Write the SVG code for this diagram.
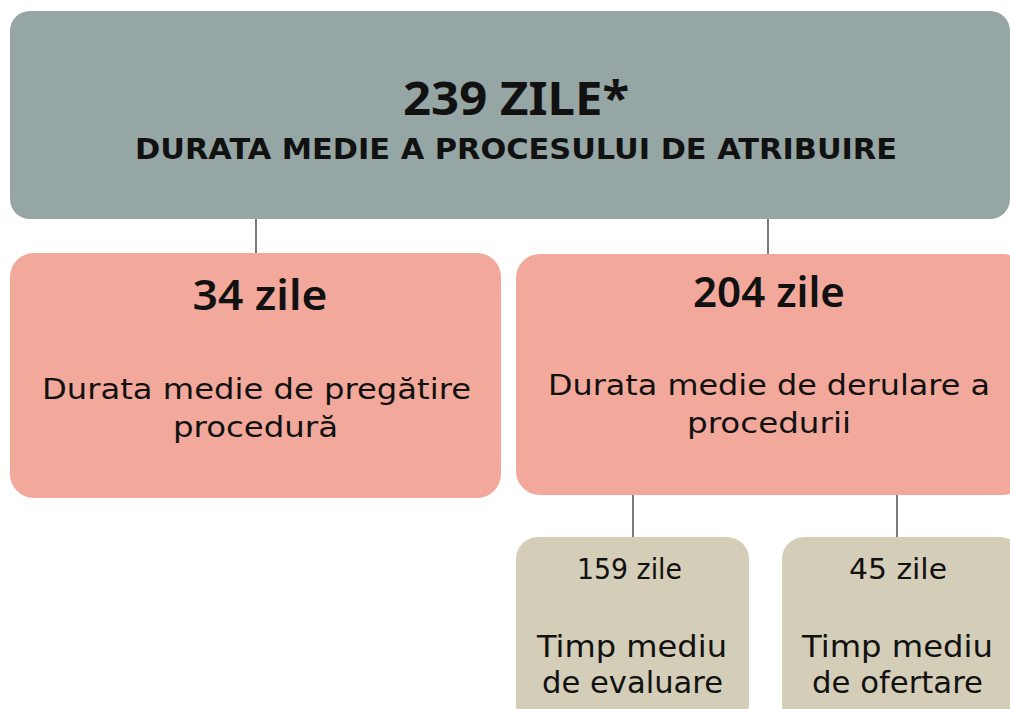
<svg xmlns="http://www.w3.org/2000/svg" width="1010" height="709" viewBox="0 0 1010 709">
<style>
.t{font-family:"DejaVu Sans","Noto Sans",sans-serif;fill:#111;text-anchor:middle}
.h{font-family:"Noto Sans","DejaVu Sans",sans-serif;fill:#111;text-anchor:middle;font-weight:600}
.b{font-weight:700}
.top{fill:#95a6a4}
.pink{fill:#f2a99b}
.beige{fill:#d4cdb8}
.conn line{stroke:#333;stroke-width:1.3}
</style>
<rect width="1010" height="709" fill="#ffffff"/>
<g class="conn">
<line x1="256" y1="219" x2="256" y2="253"/>
<line x1="768" y1="219" x2="768" y2="254"/>
<line x1="633" y1="495" x2="633" y2="537"/>
<line x1="897" y1="495" x2="897" y2="537"/>
</g>
<g id="n-total">
<rect class="top" x="10" y="11" width="1000" height="208" rx="20"/>
<text class="h b" x="516" y="115" font-size="46" textLength="226" lengthAdjust="spacingAndGlyphs">239 ZILE*</text>
<text class="t b" x="516" y="159" font-size="29" textLength="762" lengthAdjust="spacingAndGlyphs">DURATA MEDIE A PROCESULUI DE ATRIBUIRE</text>
</g>
<g id="n-pregatire">
<rect class="pink" x="10" y="253" width="491" height="245" rx="24"/>
<text class="h" x="260" y="310" font-size="42" textLength="135" lengthAdjust="spacingAndGlyphs">34 zile</text>
<text class="t" x="256.5" y="399" font-size="28" font-weight="500" textLength="429" lengthAdjust="spacingAndGlyphs">Durata medie de pregătire</text>
<text class="t" x="255.5" y="437" font-size="28" font-weight="500" textLength="165" lengthAdjust="spacingAndGlyphs">procedură</text>
</g>
<g id="n-derulare">
<rect class="pink" x="516" y="254" width="510" height="241" rx="24"/>
<text class="h" x="769" y="307" font-size="42" textLength="152" lengthAdjust="spacingAndGlyphs">204 zile</text>
<text class="t" x="769" y="395" font-size="28" font-weight="500" textLength="442" lengthAdjust="spacingAndGlyphs">Durata medie de derulare a</text>
<text class="t" x="769" y="433" font-size="28" font-weight="500" textLength="164" lengthAdjust="spacingAndGlyphs">procedurii</text>
</g>
<g id="n-evaluare">
<rect class="beige" x="516" y="537" width="233" height="190" rx="22"/>
<text class="t" x="629.5" y="579" font-size="29" textLength="105" lengthAdjust="spacingAndGlyphs">159 zile</text>
<text class="t" x="632" y="657" font-size="31" textLength="190" lengthAdjust="spacingAndGlyphs">Timp mediu</text>
<text class="t" x="632.5" y="693" font-size="31" textLength="181" lengthAdjust="spacingAndGlyphs">de evaluare</text>
</g>
<g id="n-ofertare">
<rect class="beige" x="782" y="537" width="240" height="190" rx="22"/>
<text class="t" x="898" y="579" font-size="29" textLength="98" lengthAdjust="spacingAndGlyphs">45 zile</text>
<text class="t" x="897.5" y="657" font-size="31" textLength="191" lengthAdjust="spacingAndGlyphs">Timp mediu</text>
<text class="t" x="897.5" y="693" font-size="31" textLength="171" lengthAdjust="spacingAndGlyphs">de ofertare</text>
</g>
</svg>
